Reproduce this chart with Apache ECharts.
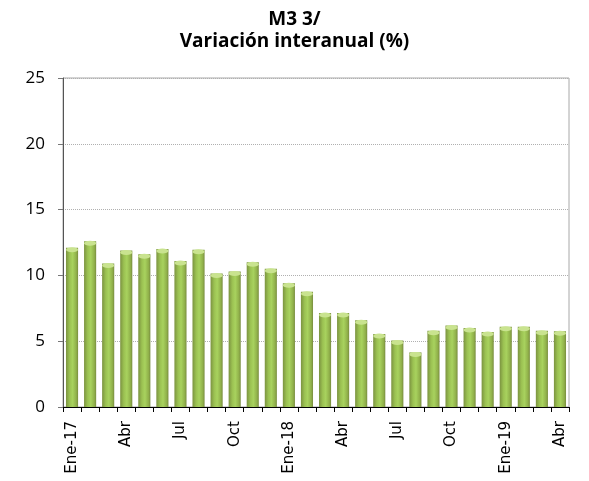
<!DOCTYPE html>
<html>
<head>
<meta charset="utf-8">
<script src="https://cdn.jsdelivr.net/npm/echarts@6/dist/echarts.min.js"></script>
<style>
  html, body { margin: 0; padding: 0; background: #fff; }
  #main { width: 589px; height: 481px; }
</style>
</head>
<body>
<div id="main"></div>
<script>
var meses = ['Ene-17', 'Feb', 'Mar', 'Abr', 'May', 'Jun', 'Jul', 'Ago', 'Sep', 'Oct', 'Nov', 'Dic',
             'Ene-18', 'Feb', 'Mar', 'Abr', 'May', 'Jun', 'Jul', 'Ago', 'Sep', 'Oct', 'Nov', 'Dic',
             'Ene-19', 'Feb', 'Mar', 'Abr'];
var variacion = [12.1, 12.6, 10.9, 11.9, 11.6, 12.0, 11.1, 11.95, 10.15, 10.3, 11.0, 10.5,
                 9.4, 8.75, 7.15, 7.15, 6.6, 5.55, 5.05, 4.15, 5.8, 6.2, 6.0, 5.7,
                 6.1, 6.1, 5.8, 5.75];

var chart = echarts.init(document.getElementById('main'));

var barColor = new echarts.graphic.LinearGradient(0, 0, 1, 0, [
    { offset: 0, color: '#7b9340' },
    { offset: 0.3, color: '#9bc152' },
    { offset: 0.55, color: '#a8d25e' },
    { offset: 0.85, color: '#90b04a' },
    { offset: 1, color: '#788c3f' }
]);

chart.setOption({
    animation: false,
    title: {
        text: 'M3 3/\nVariación interanual (%)',
        left: 'center',
        top: 4,
        textStyle: {
            fontFamily: 'Open Sans',
            fontWeight: 'bold',
            fontSize: 19,
            lineHeight: 22,
            color: '#000'
        }
    },
    grid: {
        left: 63, right: 20, top: 78, bottom: 74,
        show: true,
        borderColor: '#a8a8a8',
        borderWidth: 1
    },
    xAxis: {
        type: 'category',
        data: meses,
        axisLine: { lineStyle: { color: '#000' } },
        axisTick: { show: true, interval: 0, length: 5, lineStyle: { color: '#000' } },
        axisLabel: {
            interval: 2,
            rotate: 90,
            fontFamily: 'DejaVu Sans',
            fontSize: 15,
            color: '#000',
            margin: 14
        }
    },
    yAxis: {
        type: 'value',
        min: 0,
        max: 25,
        interval: 5,
        axisLine: { show: true, lineStyle: { color: '#555' } },
        axisTick: { show: true, length: 5, lineStyle: { color: '#777' } },
        axisLabel: {
            fontFamily: 'Open Sans',
            fontSize: 17,
            color: '#000',
            margin: 18
        },
        splitLine: { lineStyle: { color: '#b0b0b0', type: 'dotted' } }
    },
    series: [
        {
            type: 'bar',
            data: variacion,
            barCategoryGap: '33%',
            itemStyle: { color: barColor },
            z: 2
        },
        {
            type: 'pictorialBar',
            data: variacion,
            symbol: 'circle',
            symbolSize: [12, 5],
            symbolPosition: 'end',
            symbolOffset: [0, '-10%'],
            itemStyle: { color: '#c9e38f' },
            z: 3
        }
    ]
});
</script>
</body>
</html>
